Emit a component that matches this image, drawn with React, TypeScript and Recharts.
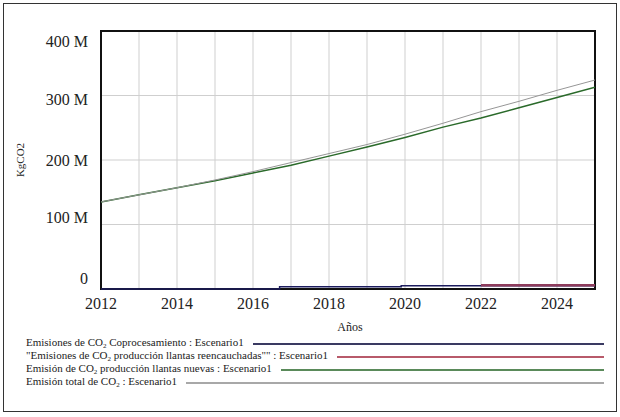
import { LineChart, Line, XAxis, YAxis, CartesianGrid, ReferenceArea } from "recharts";

// years of the simulation (Vensim output, Escenario1)
const years = [2012, 2013, 2014, 2015, 2016, 2017, 2018, 2019, 2020, 2021, 2022, 2023, 2024, 2025];
// millones de KgCO2
const totalCO2 = [135, 146, 157, 169, 182, 196, 210, 224, 240, 257, 275, 291, 308, 324];
const nuevasCO2 = [135, 146, 157, 168, 180, 192, 206, 220, 235, 251, 265, 281, 297, 313];

// step series: year where the value starts, value
const coproYears = [2012, 2016.7, 2019.9, 2025];
const coproCO2 = [0, 3.5, 5, 5];
const reencYears = [2022, 2025];
const reencCO2 = [6, 6];

const xTickLabels = [2012, 2014, 2016, 2018, 2020, 2022, 2024];
const yTicks = [0, 100, 200, 300, 400];

const legendItems = [
  { pre: "Emisiones de CO", post: " Coprocesamiento : Escenario1", color: "#3a3a62" },
  { pre: "\"Emisiones de CO", post: " producción llantas reencauchadas\"\" : Escenario1", color: "#b85a6a" },
  { pre: "Emisión de CO", post: " producción llantas nuevas : Escenario1", color: "#5a8a5a" },
  { pre: "Emisión total de CO", post: " : Escenario1", color: "#a8a8a8" },
];

const mainData = years.map((y, i) => ({ year: y, total: totalCO2[i], nuevas: nuevasCO2[i] }));
const coproData = coproYears.map((y, i) => ({ year: y, v: coproCO2[i] }));
const reencData = reencYears.map((y, i) => ({ year: y, v: reencCO2[i] }));

const serif = '"Liberation Serif", "Times New Roman", serif';

// vensim squeezes the end labels toward the middle
const yShift: Record<number, number> = { 0: -11, 100: -7, 200: 0, 300: 4, 400: 10 };

function YTick({ x, y, payload }: any) {
  const v = payload.value;
  return (
    <text x={x - 5} y={y + (yShift[v] ?? 0)} textAnchor="end" dominantBaseline="central"
      fontFamily={serif} fontSize={16} fill="#222">
      {v === 0 ? "0" : `${v} M`}
    </text>
  );
}

function XTick({ x, y, payload }: any) {
  if (!xTickLabels.includes(payload.value)) return null;
  return (
    <text x={x} y={y + 6} textAnchor="middle" dominantBaseline="central"
      fontFamily={serif} fontSize={16} fill="#222">
      {payload.value}
    </text>
  );
}

export default function App() {
  return (
    <div style={{ position: "absolute", left: 0, top: 0, width: 620, height: 417, background: "#fff", fontFamily: serif }}>
      <div style={{ position: "absolute", left: 3, top: 3, width: 614, height: 409, boxSizing: "border-box", border: "1px solid #333" }} />
      <LineChart width={620} height={417} margin={{ top: 31, right: 25, bottom: 98, left: 41 }}>
        <CartesianGrid stroke="#cfcfcf" strokeWidth={1} />
        <XAxis dataKey="year" type="number" domain={[2012, 2025]} ticks={years} allowDataOverflow
          axisLine={false} tickLine={false} tick={<XTick />} height={30} interval={0} />
        <YAxis type="number" domain={[0, 400]} ticks={yTicks} axisLine={false} tickLine={false}
          tick={<YTick />} width={60} interval={0} />
        <ReferenceArea x1={2012} x2={2025} y1={0} y2={400} fill="none" stroke="#111" strokeWidth={2} ifOverflow="visible" />
        <Line data={coproData} dataKey="v" type="stepAfter" stroke="#1c1c5e" strokeWidth={1.5} dot={false} isAnimationActive={false} />
        <Line data={reencData} dataKey="v" type="stepAfter" stroke="#8e3c5c" strokeWidth={2.5} dot={false} isAnimationActive={false} />
        <Line data={mainData} dataKey="nuevas" type="linear" stroke="#2a6a2a" strokeWidth={1.5} dot={false} isAnimationActive={false} />
        <Line data={mainData} dataKey="total" type="linear" stroke="#969696" strokeWidth={1} dot={false} isAnimationActive={false} />
      </LineChart>
      <div style={{ position: "absolute", left: 20, top: 160, transform: "translate(-50%, -50%) rotate(-90deg)", fontSize: 11, color: "#222", whiteSpace: "nowrap" }}>
        KgCO2
      </div>
      <div style={{ position: "absolute", left: 350, top: 327, transform: "translate(-50%, -50%)", fontSize: 12, color: "#222" }}>
        Años
      </div>
      <div style={{ position: "absolute", left: 26, top: 337, width: 578 }}>
        {legendItems.map((it) => (
          <div key={it.pre + it.post} style={{ display: "flex", alignItems: "center", height: 13, fontSize: 11, lineHeight: "13px", color: "#222", whiteSpace: "nowrap" }}>
            <span>
              {it.pre}<span style={{ fontSize: 7, position: "relative", top: 2 }}>2</span>{it.post}
            </span>
            <div style={{ flex: 1, height: 2, background: it.color, marginLeft: 9 }} />
          </div>
        ))}
      </div>
    </div>
  );
}
